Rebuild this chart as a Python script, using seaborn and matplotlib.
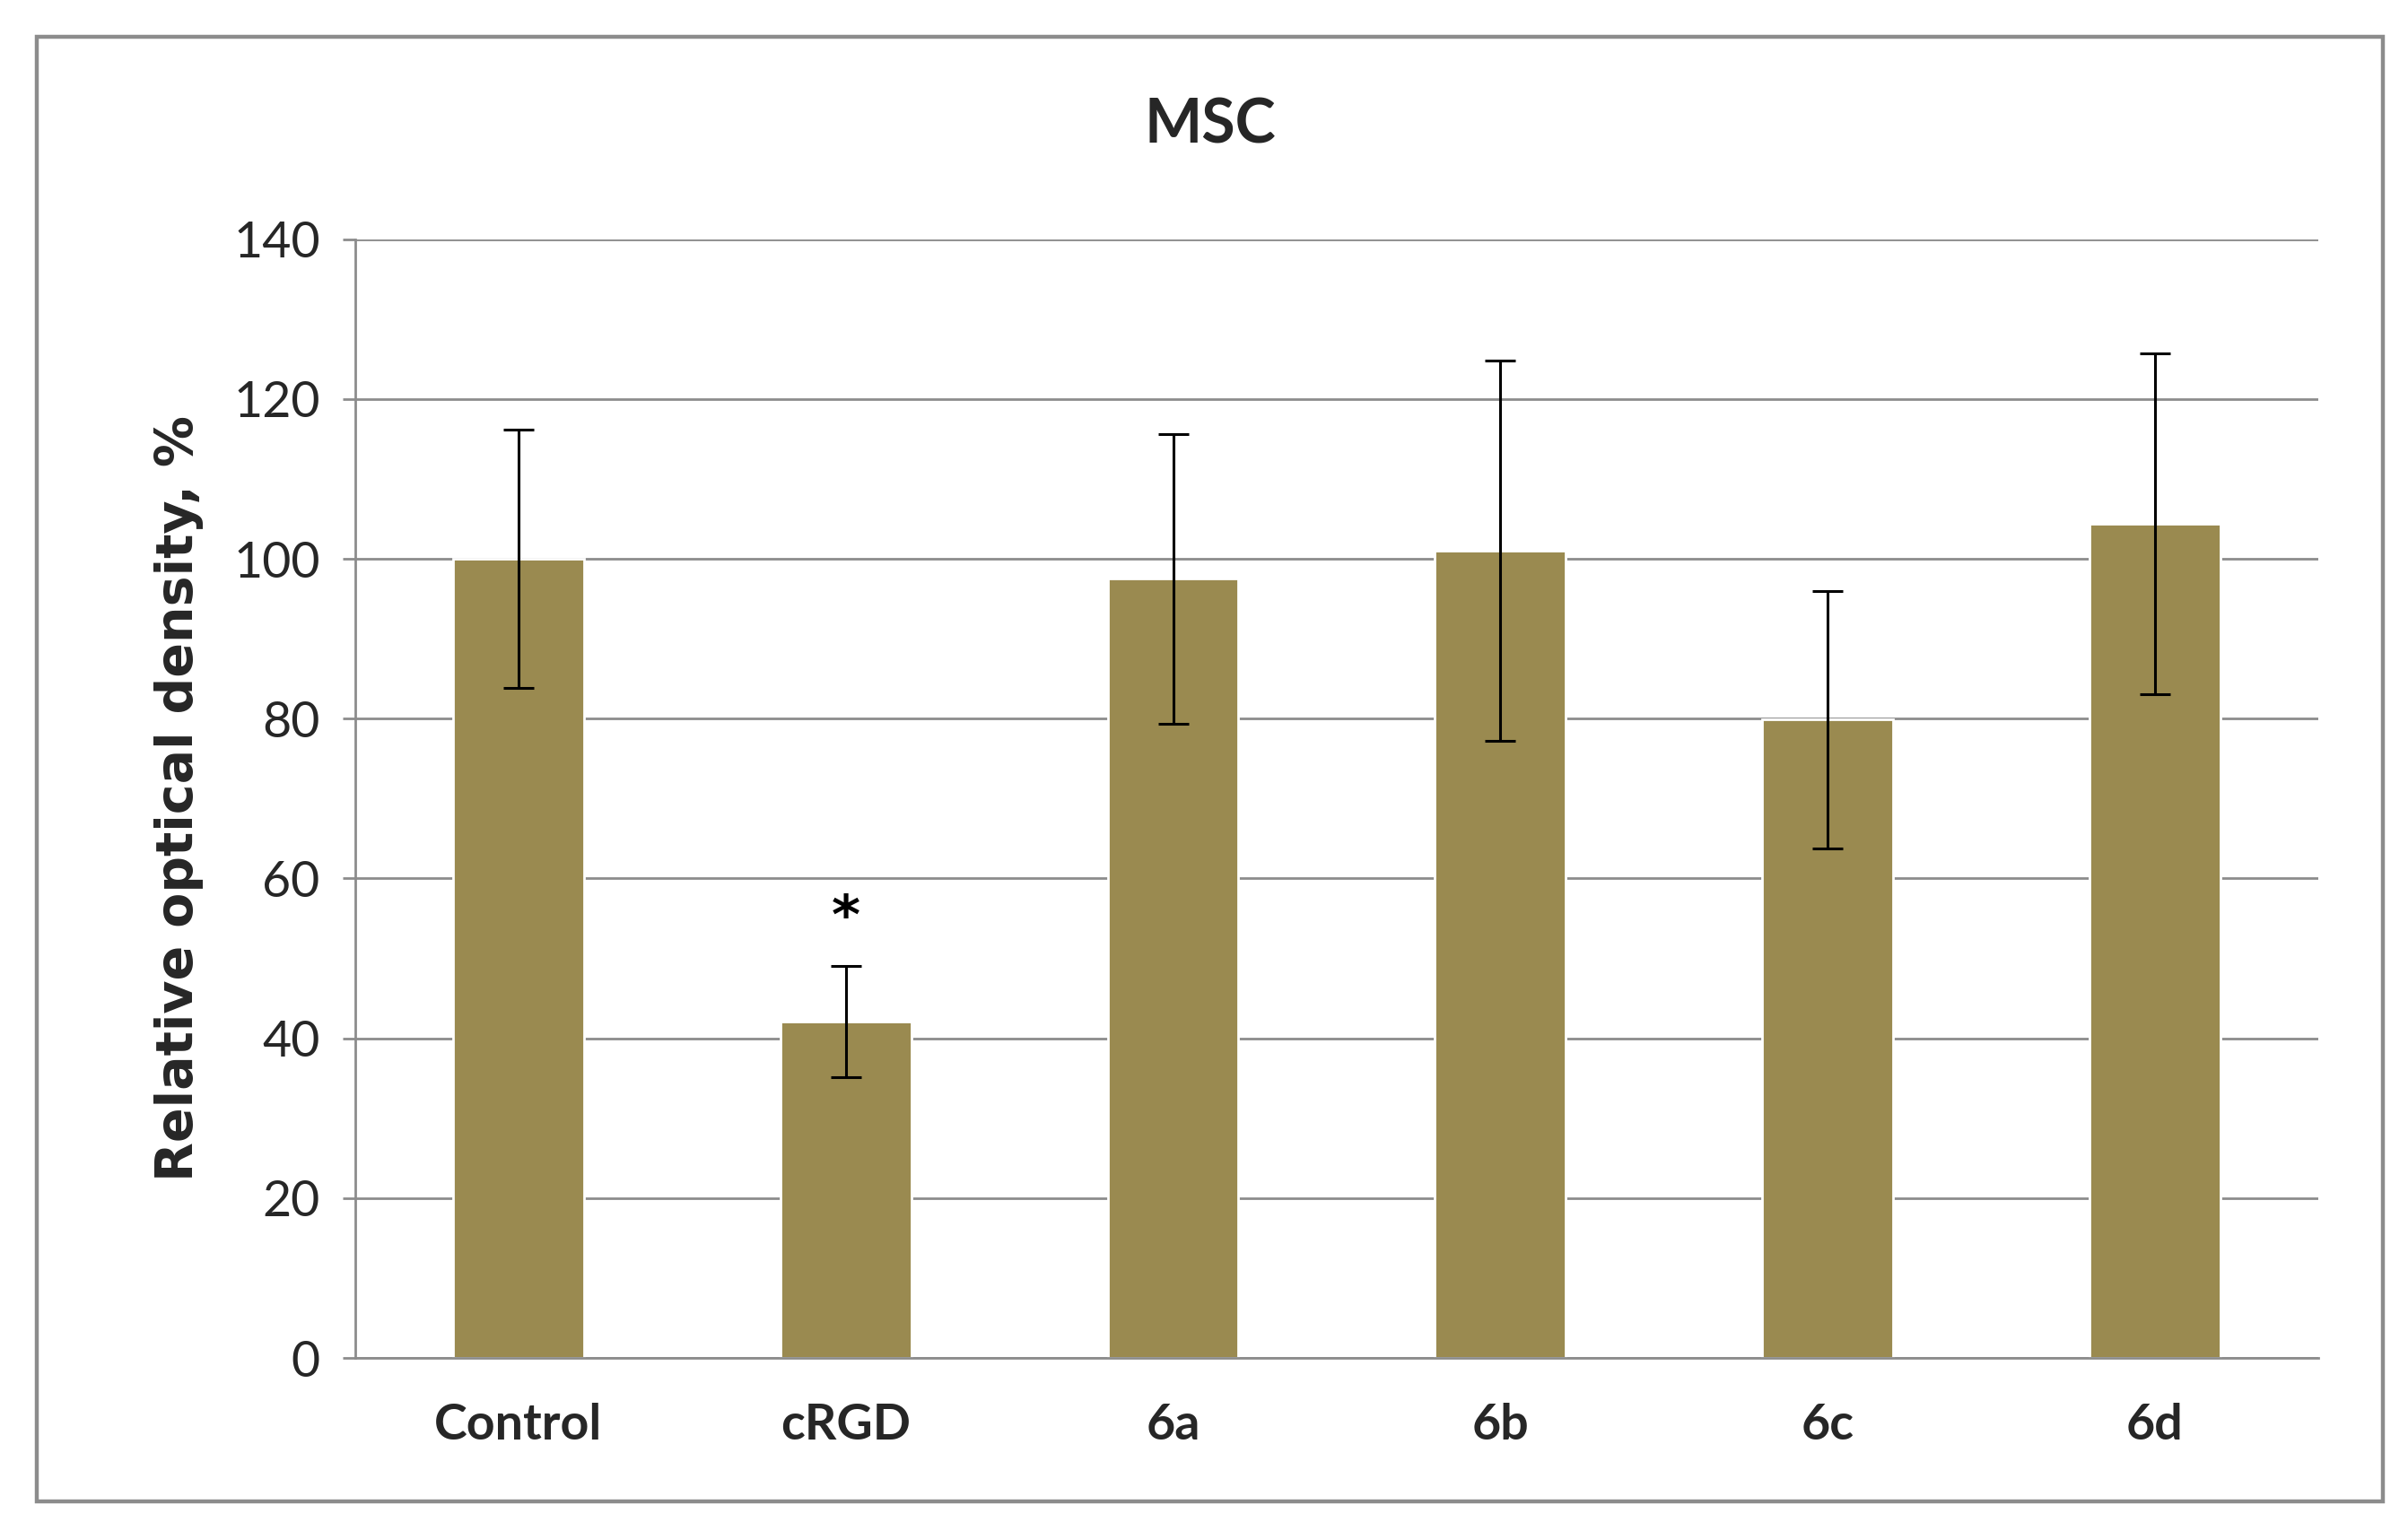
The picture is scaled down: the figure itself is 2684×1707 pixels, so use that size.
import numpy as np
import pandas as pd
import seaborn as sns
import matplotlib.pyplot as plt
from matplotlib.patches import Rectangle

# ===============================
# Data
# ===============================
groups = ['Control', 'cRGD', '6a', '6b', '6c', '6d']
means = [100.0, 42.1, 97.5, 101.0, 79.9, 104.4]
errors = [16.2, 7.0, 18.1, 23.8, 16.1, 21.3]
star_groups = ['cRGD']
star_level = 55.0

df = pd.DataFrame({'Group': groups, 'Value': means})

bar_color = '#9A8A50'
grid_color = '#8C8C8C'

sns.set_theme(style='white')
plt.rcParams['font.family'] = ['Lato', 'DejaVu Sans']

fig = plt.figure(figsize=(13.42, 8.535), dpi=200)
ax = fig.add_axes([0.1474, 0.113, 0.8154, 0.7308])

sns.barplot(data=df, x='Group', y='Value', color=bar_color, width=0.4,
            saturation=1, errorbar=None, ax=ax, zorder=2)

# error bars (SD)
xpos = np.arange(len(groups))
ax.errorbar(xpos, means, yerr=errors, fmt='none', ecolor='black',
            elinewidth=1.1, capsize=6, capthick=1.1, zorder=3)

for g in star_groups:
    ax.text(groups.index(g), star_level, '*', ha='center', va='center',
            fontsize=22, fontweight='bold', color='black',
            fontfamily='DejaVu Sans')

ax.set_ylim(0, 140)
ax.set_yticks(range(0, 141, 20))
ax.set_xlim(-0.5, len(groups) - 0.5)

ax.yaxis.grid(True, color=grid_color, linewidth=1.0, zorder=0)
ax.set_axisbelow(True)
for side in ['top', 'right']:
    ax.spines[side].set_visible(False)
for side in ['left', 'bottom']:
    ax.spines[side].set_color(grid_color)
    ax.spines[side].set_linewidth(1.0)

ax.tick_params(axis='y', which='both', left=True, length=5, width=1.0,
               color=grid_color, labelsize=20, pad=9)
ax.tick_params(axis='x', bottom=False, labelsize=20, pad=12)
for lab in ax.get_xticklabels():
    lab.set_fontweight('bold')

ax.set_xlabel('')
ax.set_ylabel('Relative optical density, %', fontsize=20.5, fontweight='bold',
              fontfamily='DejaVu Sans', labelpad=12)

fig.text(0.5026, 0.918, 'MSC', ha='center', va='center', fontsize=24.5,
         fontweight='bold')

# outer chart border
fig.patches.append(Rectangle((0.0154, 0.0192), 0.9743, 0.9566,
                             transform=fig.transFigure, fill=False,
                             edgecolor='#8C8C8C', linewidth=1.6))

fig.savefig('out.png', dpi=200, facecolor='white')
